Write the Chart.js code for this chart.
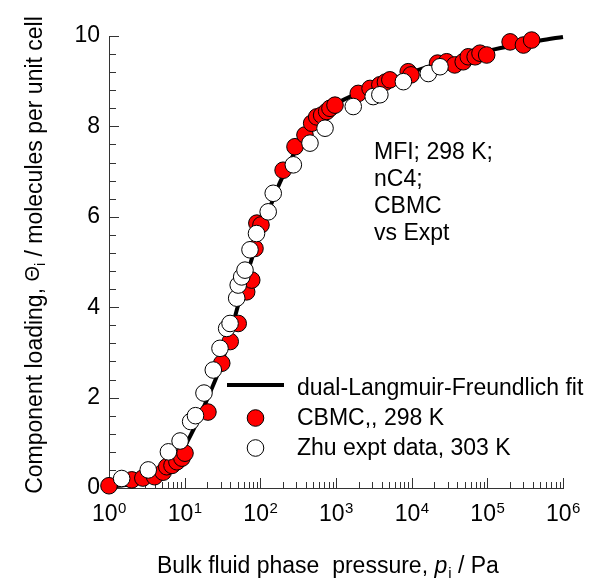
<!DOCTYPE html>
<html>
<head>
<meta charset="utf-8">
<script src="https://cdn.jsdelivr.net/npm/chart.js@4.4.0/dist/chart.umd.min.js"></script>
<style>
  html, body { margin: 0; padding: 0; background: #fff; }
  #wrap { position: relative; width: 600px; height: 581px; }
</style>
</head>
<body>
<div id="wrap"><canvas id="chart"></canvas></div>
<script>
// ---- datos ----
// curva de ajuste dual-Langmuir-Freundlich
const fitP    = [1, 2, 3, 5, 7, 10, 15, 20, 30, 40, 50, 60, 70, 80, 100, 130, 170, 220, 300, 400, 500, 700, 1000, 1500, 2000, 3000, 5000, 1e4, 2e4, 5e4, 1e5, 2e5, 5e5, 1e6];
const fitLoad = [0.03, 0.08, 0.14, 0.32, 0.55, 0.92, 1.5, 1.98, 2.7, 3.4, 4.0, 4.45, 4.85, 5.15, 5.65, 6.15, 6.65, 7.05, 7.5, 7.85, 8.05, 8.3, 8.5, 8.65, 8.75, 8.88, 9.02, 9.2, 9.36, 9.55, 9.67, 9.78, 9.9, 9.98];

// CBMC, 298 K
const cbmcP    = [1.0, 2.0, 2.8, 4.0, 5.2, 5.8, 6.8, 7.9, 9.2, 10.1, 20.3, 30.9, 40, 51, 66, 77, 85, 90, 102, 200, 287, 389, 477, 556, 646, 753, 832, 970, 1970, 2820, 3800, 4500, 5150, 9000, 9800, 22000, 29000, 37000, 48000, 56000, 69000, 80000, 98000, 200000, 300000, 385000];
const cbmcLoad = [0.05, 0.18, 0.22, 0.25, 0.35, 0.47, 0.50, 0.58, 0.66, 0.77, 1.68, 2.76, 3.24, 3.64, 4.34, 4.6, 5.3, 5.86, 5.82, 7.03, 7.55, 7.81, 8.07, 8.21, 8.25, 8.33, 8.4, 8.47, 8.73, 8.84, 8.92, 8.98, 9.03, 9.21, 9.14, 9.4, 9.43, 9.36, 9.43, 9.54, 9.54, 9.62, 9.58, 9.87, 9.8, 9.91];

// Zhu expt data, 303 K
const exptP    = [1.47, 3.3, 6.1, 8.7, 12.0, 13.9, 18.0, 23.9, 29.3, 35.9, 39.8, 48.7, 51, 56.7, 62.7, 73, 89, 127, 148, 273, 453, 716, 1690, 3100, 3800, 7770, 16600, 23700];
const exptLoad = [0.21, 0.4, 0.8, 1.04, 1.47, 1.6, 2.1, 2.61, 3.09, 3.53, 3.64, 4.2, 4.49, 4.67, 4.82, 5.27, 5.63, 6.11, 6.52, 7.15, 7.63, 7.96, 8.44, 8.66, 8.7, 8.99, 9.17, 9.32];

const xExponents = ['0', '1', '2', '3', '4', '5', '6'];
const noteLines = ['MFI; 298 K;', 'nC4;', 'CBMC', 'vs Expt'];

const FAMILY = '"Liberation Sans", Arial, Helvetica, sans-serif';
const font = (px, style) => `${style || ''} ${px}px ${FAMILY}`.trim();
const toXY = (xs, ys) => xs.map((v, i) => ({ x: v, y: ys[i] }));

// ---- ticks hacia dentro, etiquetas 10^n, titulos, leyenda y nota ----
const decor = {
  id: 'decor',
  beforeDatasetsDraw(chart) {
    const { ctx, chartArea: a, scales: { x, y } } = chart;
    ctx.save();
    ctx.strokeStyle = '#333';
    ctx.lineWidth = 1;
    ctx.beginPath();
    // eje y: cada 0.4, mayores cada 2
    for (let i = 0; i <= 25; i++) {
      const py = Math.round(y.getPixelForValue(i * 0.4)) + 0.5;
      const len = i % 5 === 0 ? 10 : 7;
      ctx.moveTo(a.left, py);
      ctx.lineTo(a.left + len, py);
    }
    // eje x log: decadas y 2..9
    for (let d = 0; d < 6; d++) {
      for (let m = 1; m <= 9; m++) {
        const px = Math.round(x.getPixelForValue(m * Math.pow(10, d))) + 0.5;
        const len = m === 1 ? 10 : 6;
        ctx.moveTo(px, a.bottom);
        ctx.lineTo(px, a.bottom - len);
      }
    }
    const pEnd = Math.round(x.getPixelForValue(1e6)) + 0.5;
    ctx.moveTo(pEnd, a.bottom);
    ctx.lineTo(pEnd, a.bottom - 10);
    ctx.stroke();
    ctx.restore();
  },
  afterDraw(chart) {
    const { ctx, chartArea: a, scales: { x } } = chart;
    ctx.save();
    ctx.fillStyle = '#000';
    ctx.textBaseline = 'alphabetic';
    ctx.textAlign = 'left';

    // etiquetas 10^n
    xExponents.forEach((e, i) => {
      const px = x.getPixelForValue(Math.pow(10, i));
      ctx.font = font(23);
      const wb = ctx.measureText('10').width;
      ctx.font = font(15);
      const we = ctx.measureText(e).width;
      const x0 = px - (wb + we) / 2;
      ctx.font = font(23);
      ctx.fillText('10', x0, 521);
      ctx.font = font(15);
      ctx.fillText(e, x0 + wb + 0.5, 513);
    });

    // titulo eje x
    let cx = 157;
    const bx = 573;
    ctx.font = font(23);
    const t1 = 'Bulk fluid phase  pressure, ';
    ctx.fillText(t1, cx, bx); cx += ctx.measureText(t1).width;
    ctx.font = font(23, 'italic');
    ctx.fillText('p', cx, bx); cx += ctx.measureText('p').width + 1;
    ctx.font = font(15);
    ctx.fillText('i', cx, bx + 5); cx += ctx.measureText('i').width;
    ctx.font = font(23);
    ctx.fillText(' / Pa', cx, bx);

    // titulo eje y (rotado)
    ctx.save();
    ctx.translate(42, 255);
    ctx.rotate(-Math.PI / 2);
    const partA = 'Component loading, ';
    const partB = '\u0398';
    const partC = ' / molecules per unit cell';
    ctx.font = font(23);
    const wA = ctx.measureText(partA).width;
    ctx.font = font(20);
    const wB = ctx.measureText(partB).width;
    ctx.font = font(14);
    const wI = ctx.measureText('i').width;
    ctx.font = font(23);
    const wC = ctx.measureText(partC).width;
    let ty = -(wA + wB + wI + wC) / 2;
    ctx.font = font(23);
    ctx.fillText(partA, ty, 0); ty += wA;
    ctx.font = font(20);
    ctx.fillText(partB, ty, -3); ty += wB;
    ctx.font = font(14);
    ctx.fillText('i', ty, 3); ty += wI;
    ctx.font = font(23);
    ctx.fillText(partC, ty, 0);
    ctx.restore();

    // nota
    ctx.font = font(23);
    noteLines.forEach((s, i) => ctx.fillText(s, 374, 159 + i * 27));

    // leyenda (estilos tomados de los datasets)
    const ds = chart.data.datasets;
    const fit = ds[2], cbmc = ds[1], expt = ds[0];
    ctx.strokeStyle = fit.borderColor;
    ctx.lineWidth = fit.borderWidth;
    ctx.beginPath();
    ctx.moveTo(227, 385);
    ctx.lineTo(284, 385);
    ctx.stroke();
    [[cbmc, 418], [expt, 448]].forEach(([d, cy]) => {
      ctx.beginPath();
      ctx.arc(255.5, cy, d.pointRadius, 0, Math.PI * 2);
      ctx.fillStyle = d.backgroundColor;
      ctx.fill();
      ctx.lineWidth = d.borderWidth;
      ctx.strokeStyle = d.borderColor;
      ctx.stroke();
    });
    ctx.fillStyle = '#000';
    ctx.font = font(23);
    ctx.fillText(fit.label, 297, 395);
    ctx.fillText(cbmc.label, 297, 425);
    ctx.fillText(expt.label, 297, 455);
    ctx.restore();
  }
};

new Chart(document.getElementById('chart'), {
  type: 'scatter',
  data: {
    datasets: [
      { label: 'Zhu expt data, 303 K', data: toXY(exptP, exptLoad), backgroundColor: '#ffffff', borderColor: '#000000', borderWidth: 1, pointRadius: 8.3, order: 0, clip: false },
      { label: 'CBMC,, 298 K', data: toXY(cbmcP, cbmcLoad), backgroundColor: '#ff0000', borderColor: '#000000', borderWidth: 1, pointRadius: 8.3, order: 1, clip: false },
      { label: 'dual-Langmuir-Freundlich fit', data: toXY(fitP, fitLoad), showLine: true, borderColor: '#000000', borderWidth: 4, pointRadius: 0, cubicInterpolationMode: 'monotone', order: 2, clip: false }
    ]
  },
  options: {
    responsive: true,
    maintainAspectRatio: false,
    animation: false,
    layout: { padding: { top: 36, right: 37, left: 0, bottom: 0 } },
    plugins: { legend: { display: false }, tooltip: { enabled: false } },
    scales: {
      x: {
        type: 'logarithmic', min: 1, max: 1e6,
        grid: { display: false, drawTicks: false },
        border: { display: true, color: '#333', width: 1 },
        ticks: { display: false },
        afterFit(s) { s.height = 93; }
      },
      y: {
        min: 0, max: 10,
        grid: { display: false, drawTicks: false },
        border: { display: true, color: '#333', width: 1 },
        ticks: { stepSize: 2, color: '#000', padding: 9, font: { family: FAMILY, size: 23 } },
        afterFit(s) { s.width = 109; }
      }
    }
  },
  plugins: [decor]
});
</script>
</body>
</html>
